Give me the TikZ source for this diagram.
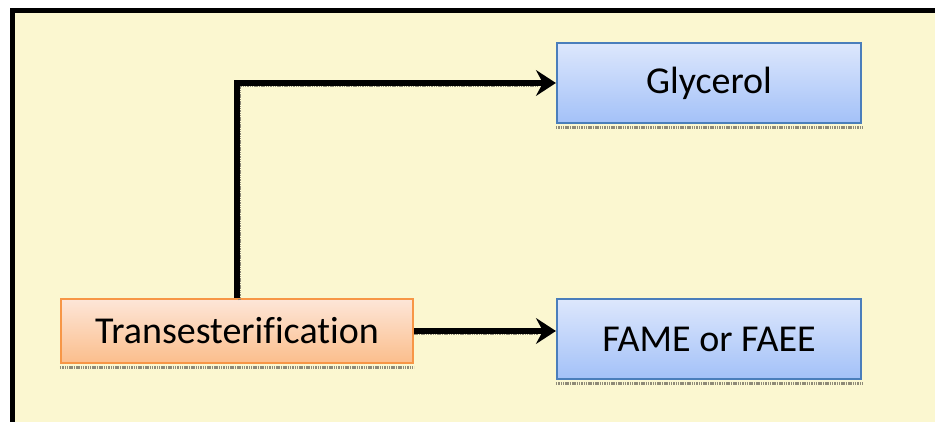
\documentclass[tikz,border=0pt]{standalone}
\usepackage{fontspec}
\setmainfont{Carlito}[Ligatures={NoCommon}]
\usetikzlibrary{arrows.meta}
\definecolor{panel}{HTML}{FBF7D0}
\definecolor{blueTop}{HTML}{DDE7FC}
\definecolor{blueBot}{HTML}{A3C1F8}
\definecolor{blueEdge}{HTML}{4A7EBB}
\definecolor{orangeTop}{HTML}{FDE6D8}
\definecolor{orangeBot}{HTML}{FBBE8C}
\definecolor{orangeEdge}{HTML}{F79646}
\definecolor{shadowgray}{HTML}{8E8A78}
\tikzset{
  product/.style={draw=blueEdge, line width=2.2pt, top color=blueTop, bottom color=blueBot,
    minimum width=304pt, minimum height=80pt, inner sep=0pt,
    font=\fontsize{38}{45}\selectfont},
  process/.style={draw=orangeEdge, line width=2.2pt, top color=orangeTop, bottom color=orangeBot,
    minimum width=352pt, minimum height=64pt, inner sep=0pt,
    font=\fontsize{38}{45}\selectfont},
  boxshadow/.style={draw=shadowgray, line width=3pt, dash pattern=on 1.5pt off 0.8pt},
  flow/.style={draw=black, line width=5.5pt, -{Stealth[length=20pt,width=26pt,inset=7pt,line width=2pt]}, line join=miter},
  flowshadow/.style={draw=shadowgray, line width=3pt, dash pattern=on 1.5pt off 0.8pt}
}
\begin{document}
\begin{tikzpicture}[x=1pt,y=-1pt]
  \useasboundingbox (0,0) rectangle (935,422);
  \fill[white] (0,0) rectangle (935,422);
  \begin{scope}
    \clip (0,0) rectangle (935,422);
    \draw[line width=5pt, fill=panel] (12.5,10.5) rectangle (970,460);
  \end{scope}

  % boxes
  \node[product] (glyc) at (709,83) {Glycerol};
  \node[product] (fame) at (709,339) {FAME or FAEE};
  \node[process] (trans) at (237,331) {Transesterification};

  % soft shadows under the boxes
  \draw[boxshadow] ([yshift=-3pt]glyc.south west) -- ([yshift=-3pt]glyc.south east);
  \draw[boxshadow] ([yshift=-3pt]fame.south west) -- ([yshift=-3pt]fame.south east);
  \draw[boxshadow] ([yshift=-3pt]trans.south west) -- ([yshift=-3pt]trans.south east);

  % connectors
  \coordinate (lowEnd) at (trans.east -| fame.west);
  \draw[flowshadow] ([xshift=2pt,yshift=-2.5pt]trans.north) |- ([xshift=-18pt,yshift=-2.5pt]glyc.west);
  \draw[flowshadow] ([yshift=-2.5pt]trans.east) -- ([xshift=-18pt,yshift=-2.5pt]lowEnd);
  \draw[flow] (trans.north) |- (glyc.west);
  \draw[flow] (trans.east) -- (lowEnd);
\end{tikzpicture}
\end{document}
